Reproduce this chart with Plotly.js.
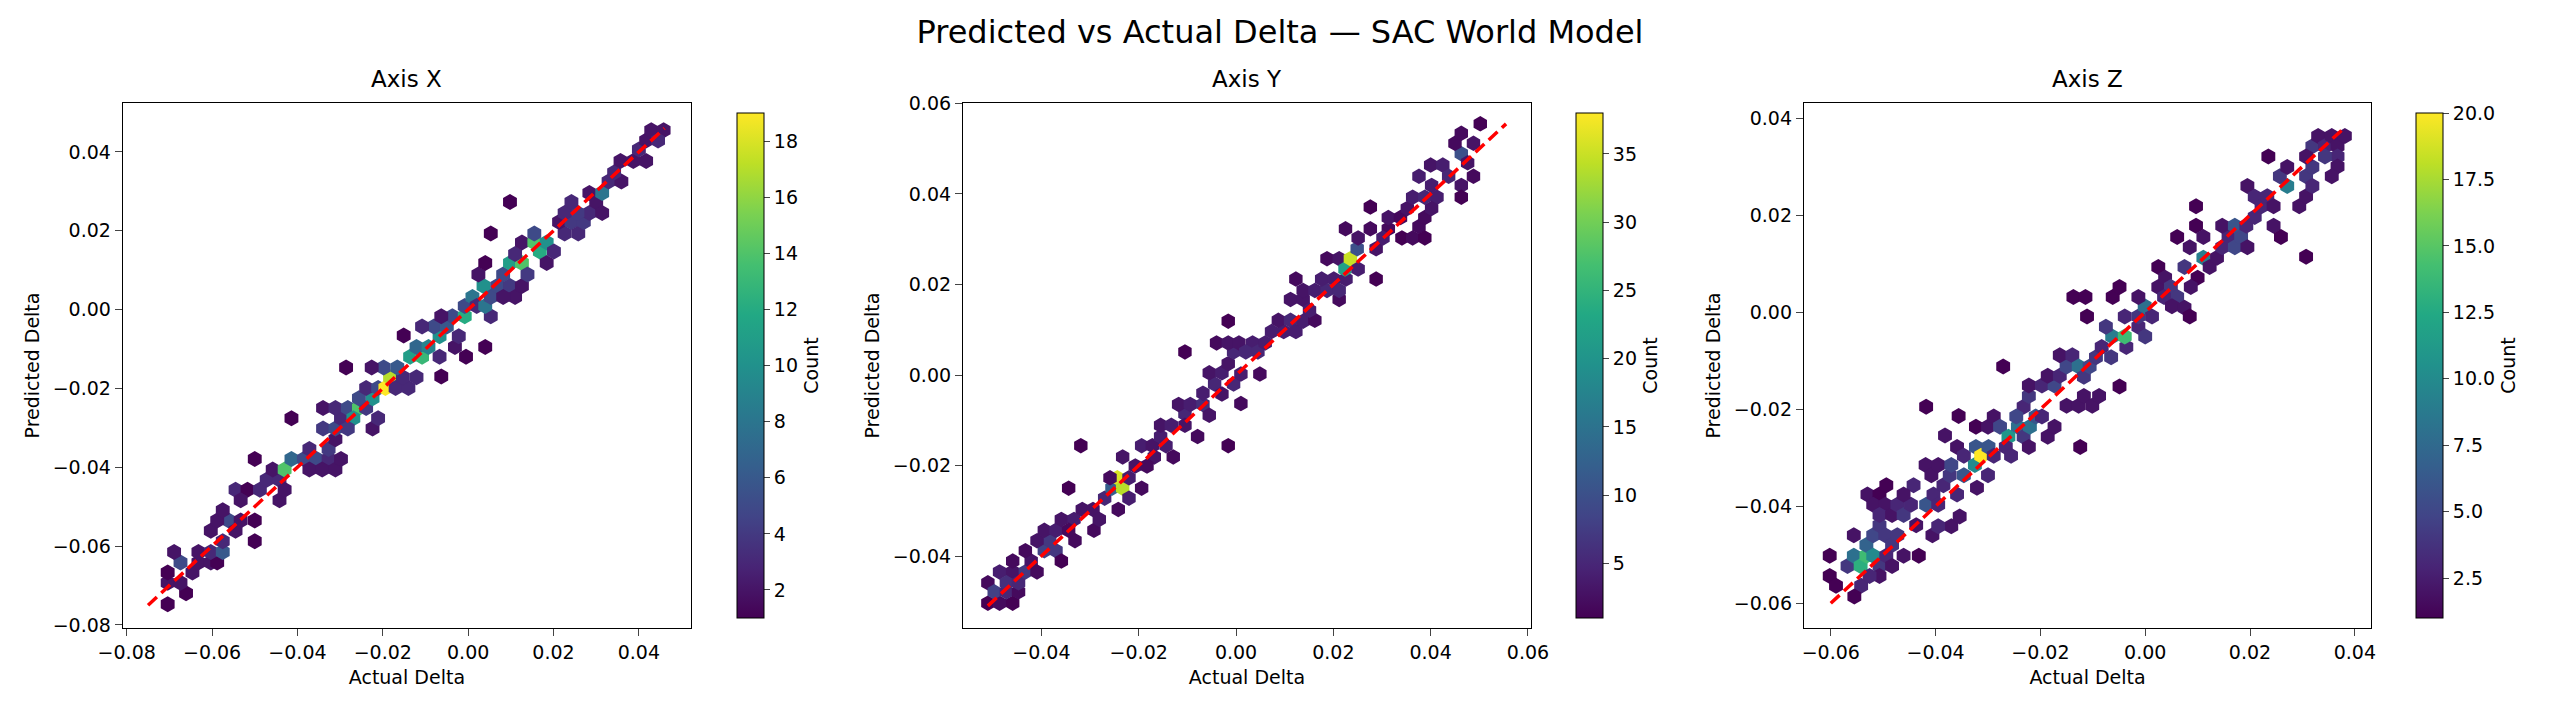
<!DOCTYPE html>
<html>
<head>
<meta charset="utf-8">
<script src="https://cdn.plot.ly/plotly-3.0.1.min.js"></script>
<style>body{margin:0;background:#fff}</style>
</head>
<body>
<div id="chart" style="width:2560px;height:711px"></div>
<script>
// hexbin cells, values in units of 1e-3
const xCellX = [-70.4,-66.1,-70.4,-67.4,-70.4,-67.4,-68.9,-64.6,-63.2,-60.3,-63.2,-58.8,-60.3,-60.3,-57.5,-57.5,-56.1,-58.8,-57.5,-54.5,-53.3,-50.0,-50.0,-54.5,-51.7,-53.3,-48.8,-47.2,-44.2,-44.2,-43.0,-45.8,-43.0,-41.4,-38.5,-37.2,-35.5,-37.2,-32.7,-34.2,-31.1,-29.8,-32.7,-31.1,-34.0,-31.1,-29.8,-34.0,-31.1,-28.2,-25.6,-26.9,-28.2,-22.4,-21.1,-23.9,-22.4,-25.6,-23.9,-21.1,-19.4,-18.3,-19.8,-22.6,-17.0,-14.0,-15.3,-16.6,-12.1,-13.6,-10.8,-12.1,-9.3,-6.7,-6.7,-6.3,-8.0,-10.8,-5.0,-3.7,-6.3,-3.1,-0.5,-2.2,-0.8,-0.8,1.0,3.6,2.0,5.3,4.0,5.3,6.8,2.4,4.0,8.2,9.8,11.0,8.2,12.6,9.8,12.6,13.9,11.0,12.6,15.5,16.8,18.4,15.5,18.4,20.1,22.6,21.3,24.2,25.8,27.1,28.4,25.6,22.6,24.2,28.4,30.0,31.4,31.4,32.9,35.9,34.2,35.7,38.7,41.7,40.0,41.7,42.9,45.8,44.5,5.3,9.8,4.0,-15.1,-28.6,-41.4,-50.0];
const xCellY = [-74.8,-72.0,-69.3,-69.3,-66.7,-64.2,-61.5,-66.7,-64.2,-64.2,-61.5,-64.2,-61.5,-56.1,-61.5,-58.8,-53.5,-53.5,-50.9,-56.1,-53.5,-53.5,-58.8,-45.7,-45.7,-48.4,-45.7,-43.2,-43.2,-48.4,-45.7,-40.6,-40.6,-37.9,-37.9,-35.4,-37.9,-40.6,-37.9,-40.6,-40.6,-37.9,-35.4,-32.9,-30.2,-30.2,-27.6,-25.0,-25.0,-25.0,-25.0,-27.6,-30.2,-30.2,-27.6,-25.0,-22.5,-22.5,-19.9,-19.9,-19.9,-17.2,-14.7,-14.7,-19.9,-19.9,-17.2,-14.7,-17.2,-12.0,-12.0,-9.5,-9.5,-6.8,-12.0,-17.0,-4.3,-4.3,-4.3,-1.7,-1.7,-9.5,-12.0,-6.8,-1.7,0.9,3.2,6.0,0.9,-1.7,0.9,3.2,6.0,8.9,11.8,8.9,6.0,3.2,3.2,6.0,11.8,11.8,8.9,14.1,17.0,17.0,14.7,17.0,19.3,11.8,14.7,19.3,22.2,22.2,19.3,22.2,24.5,24.5,24.5,27.3,29.6,27.3,29.6,24.5,32.5,32.5,34.8,37.7,37.7,37.7,40.6,42.9,45.5,45.5,42.9,19.3,27.3,-9.5,-6.6,-14.7,-27.6,-37.9];
const xCellCount = [1,1,2,2,1,5,2,2,2,2,2,1,3,2,6,3,5,2,2,2,2,1,1,3,1,2,3,3,3,2,2,2,14,7,5,3,5,2,3,2,2,2,4,2,4,5,3,2,3,5,14,10,4,2,3,4,10,5,3,5,19,17,5,2,3,3,3,6,3,11,13,7,9,10,3,1,5,3,6,5,2,2,1,3,12,5,8,10,3,3,8,5,5,2,1,5,4,2,2,2,11,14,4,3,2,14,12,10,5,2,3,3,2,4,3,4,3,4,3,3,2,2,8,2,3,2,3,2,2,2,3,2,2,2,3,1,1,1,1,1,1,1];

const yCellX = [-51.0,-48.6,-45.9,-51.0,-49.7,-47.2,-44.7,-48.6,-45.9,-47.2,-43.3,-44.7,-45.9,-42.1,-40.9,-39.4,-37.0,-35.9,-38.3,-40.9,-43.3,-39.4,-37.0,-35.9,-33.3,-33.1,-34.4,-31.6,-29.4,-29.2,-28.1,-34.4,-31.9,-27.0,-25.5,-24.4,-23.3,-24.2,-22.0,-25.9,-22.0,-19.4,-20.7,-23.3,-19.4,-16.8,-18.3,-17.2,-15.5,-14.4,-12.9,-15.5,-13.3,-10.5,-11.8,-10.5,-7.9,-9.4,-6.8,-5.5,-6.8,-4.4,-2.9,-5.5,-2.9,-1.6,-0.5,1.0,-1.6,1.0,-0.5,-4.0,-1.6,0.6,3.4,2.0,4.5,4.9,6.0,7.3,9.8,8.7,11.2,12.3,13.8,16.2,11.2,13.8,15.1,12.3,13.8,16.2,18.7,21.2,17.6,20.1,21.2,22.6,18.7,21.2,22.4,23.5,25.1,24.9,22.5,25.1,27.6,28.8,28.8,27.6,31.3,30.2,31.3,33.8,34.1,36.3,37.6,35.2,36.3,38.8,40.2,41.3,38.8,40.2,38.8,37.6,40.0,42.5,43.7,46.3,46.3,48.8,46.3,45.0,46.3,48.8,50.2,47.6,-1.6,-10.5];
const yCellY = [-50.4,-50.4,-50.4,-45.9,-47.9,-47.9,-47.9,-43.5,-43.5,-45.9,-43.5,-45.9,-41.1,-41.1,-43.5,-38.8,-38.8,-41.1,-36.6,-36.6,-38.8,-34.3,-34.3,-31.9,-31.9,-36.6,-34.3,-29.7,-29.7,-34.3,-31.9,-25.0,-15.6,-27.2,-25.0,-22.7,-25.0,-29.7,-27.2,-22.7,-22.7,-25.0,-20.1,-18.1,-15.6,-18.1,-20.1,-15.6,-13.6,-15.6,-18.1,-11.1,-11.1,-8.6,-6.5,-11.1,-13.6,-6.5,-6.5,-8.9,-4.0,-2.0,-4.2,0.5,0.5,2.5,-2.0,-6.3,-15.6,0.2,5.1,7.1,7.1,7.1,7.1,5.1,5.1,0.2,7.1,9.6,9.6,12.1,12.1,9.6,11.9,12.1,16.7,16.7,14.3,21.2,18.7,18.7,18.7,16.7,21.2,21.2,18.7,21.2,25.7,25.7,23.4,25.7,23.4,27.9,32.3,30.3,32.3,27.9,21.2,37.1,32.3,30.3,34.8,34.8,30.3,30.3,32.8,36.8,39.3,39.3,41.9,39.3,34.8,36.8,30.3,43.9,46.4,46.4,43.9,41.9,39.3,43.9,48.9,51.2,53.4,51.2,55.5,46.9,11.9,5.1];
const yCellCount = [1,2,1,2,8,5,2,4,3,6,7,5,2,3,2,8,7,1,7,3,2,3,4,3,4,2,2,3,3,2,3,1,1,5,12,36,34,2,4,2,4,2,3,3,4,3,2,3,4,4,2,3,4,5,3,3,2,4,6,3,4,5,3,3,4,3,5,2,1,4,5,2,3,3,4,5,5,2,4,4,4,3,5,4,4,2,3,3,4,2,3,4,5,2,4,4,5,4,2,3,22,35,4,10,2,3,2,3,1,1,2,4,3,2,1,2,2,3,4,5,4,4,2,3,1,4,3,4,5,3,1,2,10,2,2,3,1,3,1,1];

const zCellX = [-60.2,-60.2,-59.0,-56.8,-55.6,-54.3,-53.2,-54.2,-55.5,-55.6,-53.2,-51.9,-50.7,-51.9,-50.7,-49.6,-48.3,-49.4,-48.3,-50.7,-52.6,-47.3,-46.1,-43.2,-53.0,-50.7,-49.4,-51.9,-49.6,-50.7,-48.3,-47.3,-46.1,-44.7,-44.2,-46.1,-43.7,-41.8,-40.4,-41.9,-40.8,-39.5,-39.5,-38.5,-37.3,-35.9,-40.6,-37.0,-35.4,-39.5,-38.2,-35.9,-34.6,-37.0,-34.6,-32.5,-32.3,-31.3,-29.9,-28.9,-30.0,-32.1,-35.6,-41.8,-32.3,-30.0,-28.9,-27.7,-26.1,-26.6,-25.6,-24.3,-23.2,-22.2,-22.0,-20.9,-23.2,-22.2,-19.7,-18.6,-17.3,-24.6,-27.1,-22.2,-19.7,-17.3,-18.6,-16.3,-15.0,-16.3,-13.9,-12.7,-11.7,-15.0,-12.7,-11.7,-10.1,-8.8,-12.4,-10.6,-9.4,-8.3,-6.5,-4.9,-3.6,-6.3,-3.9,-7.5,-3.9,-1.3,0.0,-1.3,-0.1,1.3,-1.3,-6.2,-4.9,-11.1,-13.7,-11.4,2.5,2.5,3.8,4.9,6.1,3.6,5.1,7.5,8.5,7.5,10.0,8.7,6.1,9.7,9.7,11.1,8.5,11.1,12.3,13.7,14.7,15.9,14.7,17.1,17.1,18.3,19.5,19.3,19.5,20.9,20.9,22.2,23.3,24.5,24.5,25.9,23.5,27.1,25.7,27.1,29.4,30.7,30.7,31.9,31.9,31.9,30.7,33.0,34.3,35.6,36.7,38.1,36.7,36.7,35.6,34.3,30.7];
const zCellY = [-50.2,-54.4,-56.4,-52.3,-50.2,-52.3,-50.2,-56.4,-58.6,-46.0,-48.0,-50.2,-52.3,-46.0,-43.9,-46.0,-48.0,-50.2,-52.3,-54.4,-54.4,-46.0,-50.2,-50.2,-37.6,-37.6,-35.7,-39.7,-39.7,-41.8,-41.8,-39.7,-41.8,-39.7,-35.7,-37.6,-43.9,-39.7,-37.6,-31.5,-33.6,-31.5,-39.7,-35.7,-33.6,-37.6,-46.0,-44.1,-42.1,-44.1,-25.4,-27.8,-29.6,-31.5,-33.6,-31.5,-27.8,-29.6,-27.8,-29.6,-33.6,-36.2,-21.4,-19.5,-23.6,-23.6,-21.5,-23.6,-25.7,-27.8,-29.6,-23.6,-25.7,-27.8,-23.6,-21.5,-19.5,-17.3,-21.5,-25.7,-23.6,-21.5,-11.2,-15.1,-15.1,-15.1,-13.1,-13.1,-11.2,-8.9,-8.9,-11.2,-13.3,-19.3,-19.3,-17.3,-19.3,-17.3,-27.8,-11.2,-9.3,-7.2,-9.3,-15.3,-7.2,-5.0,-5.0,-3.0,-0.9,-3.0,-5.0,-0.9,1.2,-0.9,3.1,3.1,5.2,-0.9,3.1,3.1,5.2,9.3,7.1,5.2,3.1,3.1,1.2,0.9,-0.9,9.3,7.1,5.2,15.5,21.8,17.8,15.5,13.4,11.2,9.3,11.2,13.4,15.5,17.8,17.8,13.4,15.5,13.4,17.8,26.0,23.8,19.6,21.8,23.9,21.8,17.8,15.5,32.1,26.0,28.0,29.9,21.8,23.9,28.0,26.0,29.9,34.2,32.1,36.3,34.2,36.3,34.2,36.3,32.1,30.0,28.0,32.1,11.4];
const zCellCount = [1,1,1,4,8,13,14,3,1,2,7,10,4,5,4,4,4,3,2,2,3,4,2,1,2,1,1,2,2,3,2,3,4,3,3,2,2,6,3,2,2,2,3,3,4,3,2,2,2,3,2,2,3,5,6,10,6,20,6,3,3,2,1,1,1,2,2,5,11,3,3,8,4,2,8,6,3,4,3,2,2,5,1,2,3,5,2,3,5,2,3,8,4,2,2,2,2,2,1,5,4,3,4,1,3,9,14,4,3,3,4,4,8,3,2,1,1,1,1,1,2,1,2,4,4,3,2,2,1,4,1,2,1,1,1,2,2,9,2,2,3,3,2,6,5,5,2,3,2,3,3,3,3,2,2,1,1,9,4,2,2,2,4,3,4,4,2,2,3,2,2,2,3,2,2,4,1];

// y = x reference line ends, units of 1e-3
const xLine = [-75, 46];
const yLine = [-51, 55.5];
const zLine = [-60, 38];

const viridis = [
  [0.0, '#440154'], [0.1, '#482475'], [0.2, '#414487'], [0.3, '#355f8d'],
  [0.4, '#2a788e'], [0.5, '#21918c'], [0.6, '#22a884'], [0.7, '#44bf70'],
  [0.8, '#7ad151'], [0.9, '#bddf26'], [1.0, '#fde725'],
];

const font = 'DejaVu Sans, sans-serif';
const domY = [0.1167, 0.8551];
const panels = [
  { name: 'Axis X', xs: xCellX, ys: xCellY, c: xCellCount, line: xLine, cmax: 19, dom: [0.048, 0.2699], cbx: 0.284,
    xr: [-0.0809, 0.0522], yr: [-0.0808, 0.0524], ct: 2, cfmt: 'd', size: 16 },
  { name: 'Axis Y', xs: yCellX, ys: yCellY, c: yCellCount, line: yLine, cmax: 38, dom: [0.3762, 0.598], cbx: 0.6117,
    xr: [-0.0561, 0.0606], yr: [-0.0559, 0.0601], ct: 5, cfmt: 'd', size: 15.5 },
  { name: 'Axis Z', xs: zCellX, ys: zCellY, c: zCellCount, line: zLine, cmax: 20, dom: [0.7047, 0.9262], cbx: 0.9398,
    xr: [-0.0651, 0.0431], yr: [-0.0651, 0.0431], ct: 2.5, cfmt: '.1f', size: 16 },
];

const traces = [];
const layout = {
  width: 2560, height: 711,
  margin: { l: 0, r: 0, t: 0, b: 0 },
  paper_bgcolor: '#fff', plot_bgcolor: '#fff',
  font: { family: font, size: 19, color: '#000' },
  showlegend: false,
  title: { text: 'Predicted vs Actual Delta — SAC World Model', x: 0.5, y: 0.955, yanchor: 'middle',
    font: { family: font, size: 32, color: '#000' } },
  annotations: [],
};

panels.forEach((p, i) => {
  const n = i === 0 ? '' : String(i + 1);
  traces.push({
    type: 'scatter', mode: 'markers', xaxis: 'x' + n, yaxis: 'y' + n,
    x: p.xs.map((v) => v / 1000), y: p.ys.map((v) => v / 1000),
    hoverinfo: 'skip',
    marker: {
      symbol: 'hexagon', size: p.size, color: p.c, colorscale: viridis, cmin: 1, cmax: p.cmax,
      line: { width: 0 },
      colorbar: {
        x: p.cbx, xanchor: 'left', y: domY[0], yanchor: 'bottom', len: domY[1] - domY[0], lenmode: 'fraction',
        thickness: 27, outlinewidth: 1, outlinecolor: '#000', ticks: 'outside', ticklen: 6,
        dtick: p.ct, tick0: 0, tickformat: p.cfmt, tickfont: { family: font, size: 19 },
        title: { text: 'Count', side: 'right', font: { family: font, size: 19 } },
      },
    },
  });
  traces.push({
    type: 'scatter', mode: 'lines', xaxis: 'x' + n, yaxis: 'y' + n,
    x: p.line.map((v) => v / 1000), y: p.line.map((v) => v / 1000),
    line: { color: '#ff0000', width: 3.5, dash: '12px,6px' }, hoverinfo: 'skip',
  });
  const ax = {
    showline: true, mirror: true, linecolor: '#000', linewidth: 1.2, ticks: 'outside', ticklen: 7,
    showgrid: false, zeroline: false, tickformat: '.2f', tickfont: { family: font, size: 19 },
    dtick: 0.02, tick0: 0,
  };
  layout['xaxis' + n] = Object.assign({}, ax, { domain: p.dom, range: p.xr,
    anchor: 'y' + n, title: { text: 'Actual Delta', standoff: 8, font: { family: font, size: 19 } } });
  layout['yaxis' + n] = Object.assign({}, ax, { domain: domY, range: p.yr,
    anchor: 'x' + n, title: { text: 'Predicted Delta', standoff: 8, font: { family: font, size: 19 } } });
  layout.annotations.push({
    text: p.name, xref: 'paper', yref: 'paper', x: (p.dom[0] + p.dom[1]) / 2, y: domY[1] + 0.012,
    xanchor: 'center', yanchor: 'bottom', showarrow: false, font: { family: font, size: 23 },
  });
});

Plotly.newPlot('chart', traces, layout, { staticPlot: true });
</script>
</body>
</html>
